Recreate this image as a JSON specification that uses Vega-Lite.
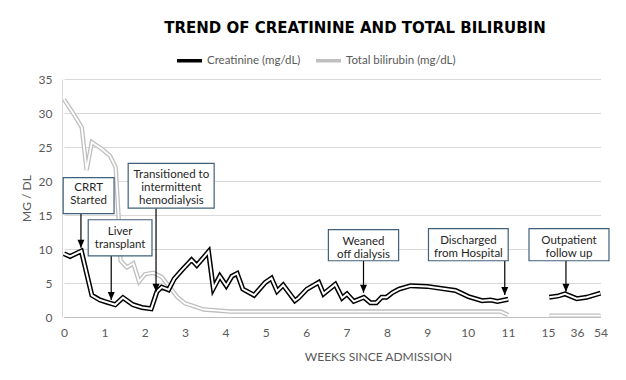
{
  "$schema": "https://vega.github.io/schema/vega-lite/v6.json",
  "width": 540,
  "height": 238,
  "autosize": {"type": "none"},
  "padding": {"left": 62, "top": 79, "right": 24, "bottom": 63},
  "background": "white",
  "title": {"text": "TREND OF CREATININE AND TOTAL BILIRUBIN", "font": "DejaVu Sans", "fontSize": 15, "fontWeight": "bold", "color": "#000000", "anchor": "middle", "dx": 23, "offset": 10, "frame": "group"},
  "config": {
    "view": {"stroke": null},
    "axis": {"labelFont": "Lato", "labelFontSize": 12, "labelColor": "#595959", "titleFont": "Lato", "titleFontSize": 12, "titleFontWeight": "normal", "titleColor": "#595959", "ticks": false, "labelOverlap": false, "labelFlush": false},
    "legend": {"labelFont": "Lato", "labelFontSize": 11.5, "labelColor": "#595959"}
  },
  "datasets": {
    "series": [
      {"series": "Total bilirubin (mg/dL)", "phase": "in", "week": 0.0, "value": 32.0},
      {"series": "Total bilirubin (mg/dL)", "phase": "in", "week": 0.19, "value": 30.3},
      {"series": "Total bilirubin (mg/dL)", "phase": "in", "week": 0.44, "value": 27.9},
      {"series": "Total bilirubin (mg/dL)", "phase": "in", "week": 0.56, "value": 21.6},
      {"series": "Total bilirubin (mg/dL)", "phase": "in", "week": 0.69, "value": 25.7},
      {"series": "Total bilirubin (mg/dL)", "phase": "in", "week": 0.94, "value": 24.7},
      {"series": "Total bilirubin (mg/dL)", "phase": "in", "week": 1.14, "value": 23.7},
      {"series": "Total bilirubin (mg/dL)", "phase": "in", "week": 1.28, "value": 22.0},
      {"series": "Total bilirubin (mg/dL)", "phase": "in", "week": 1.35, "value": 15.0},
      {"series": "Total bilirubin (mg/dL)", "phase": "in", "week": 1.40, "value": 8.3},
      {"series": "Total bilirubin (mg/dL)", "phase": "in", "week": 1.56, "value": 7.3},
      {"series": "Total bilirubin (mg/dL)", "phase": "in", "week": 1.72, "value": 7.9},
      {"series": "Total bilirubin (mg/dL)", "phase": "in", "week": 1.86, "value": 5.2},
      {"series": "Total bilirubin (mg/dL)", "phase": "in", "week": 2.01, "value": 6.3},
      {"series": "Total bilirubin (mg/dL)", "phase": "in", "week": 2.21, "value": 6.5},
      {"series": "Total bilirubin (mg/dL)", "phase": "in", "week": 2.42, "value": 5.9},
      {"series": "Total bilirubin (mg/dL)", "phase": "in", "week": 2.63, "value": 4.3},
      {"series": "Total bilirubin (mg/dL)", "phase": "in", "week": 2.80, "value": 3.0},
      {"series": "Total bilirubin (mg/dL)", "phase": "in", "week": 3.00, "value": 2.0},
      {"series": "Total bilirubin (mg/dL)", "phase": "in", "week": 3.21, "value": 1.6},
      {"series": "Total bilirubin (mg/dL)", "phase": "in", "week": 3.46, "value": 1.1},
      {"series": "Total bilirubin (mg/dL)", "phase": "in", "week": 3.70, "value": 1.0},
      {"series": "Total bilirubin (mg/dL)", "phase": "in", "week": 4.12, "value": 0.8},
      {"series": "Total bilirubin (mg/dL)", "phase": "in", "week": 10.82, "value": 0.8},
      {"series": "Total bilirubin (mg/dL)", "phase": "in", "week": 11.02, "value": 0.3},
      {"series": "Total bilirubin (mg/dL)", "phase": "out", "week": 15.9, "value": 0.2},
      {"series": "Total bilirubin (mg/dL)", "phase": "out", "week": 54, "value": 0.2},
      {"series": "Creatinine (mg/dL)", "phase": "in", "week": 0.0, "value": 9.3},
      {"series": "Creatinine (mg/dL)", "phase": "in", "week": 0.15, "value": 8.9},
      {"series": "Creatinine (mg/dL)", "phase": "in", "week": 0.43, "value": 9.7},
      {"series": "Creatinine (mg/dL)", "phase": "in", "week": 0.69, "value": 3.2},
      {"series": "Creatinine (mg/dL)", "phase": "in", "week": 0.89, "value": 2.5},
      {"series": "Creatinine (mg/dL)", "phase": "in", "week": 1.05, "value": 2.2},
      {"series": "Creatinine (mg/dL)", "phase": "in", "week": 1.27, "value": 1.8},
      {"series": "Creatinine (mg/dL)", "phase": "in", "week": 1.46, "value": 2.85},
      {"series": "Creatinine (mg/dL)", "phase": "in", "week": 1.71, "value": 1.8},
      {"series": "Creatinine (mg/dL)", "phase": "in", "week": 1.93, "value": 1.4},
      {"series": "Creatinine (mg/dL)", "phase": "in", "week": 2.16, "value": 1.2},
      {"series": "Creatinine (mg/dL)", "phase": "in", "week": 2.30, "value": 3.7},
      {"series": "Creatinine (mg/dL)", "phase": "in", "week": 2.42, "value": 4.4},
      {"series": "Creatinine (mg/dL)", "phase": "in", "week": 2.59, "value": 4.0},
      {"series": "Creatinine (mg/dL)", "phase": "in", "week": 2.73, "value": 5.6},
      {"series": "Creatinine (mg/dL)", "phase": "in", "week": 2.92, "value": 6.9},
      {"series": "Creatinine (mg/dL)", "phase": "in", "week": 3.16, "value": 8.4},
      {"series": "Creatinine (mg/dL)", "phase": "in", "week": 3.29, "value": 7.6},
      {"series": "Creatinine (mg/dL)", "phase": "in", "week": 3.58, "value": 9.6},
      {"series": "Creatinine (mg/dL)", "phase": "in", "week": 3.70, "value": 4.2},
      {"series": "Creatinine (mg/dL)", "phase": "in", "week": 3.86, "value": 6.0},
      {"series": "Creatinine (mg/dL)", "phase": "in", "week": 4.02, "value": 4.6},
      {"series": "Creatinine (mg/dL)", "phase": "in", "week": 4.16, "value": 6.0},
      {"series": "Creatinine (mg/dL)", "phase": "in", "week": 4.29, "value": 6.4},
      {"series": "Creatinine (mg/dL)", "phase": "in", "week": 4.43, "value": 4.1},
      {"series": "Creatinine (mg/dL)", "phase": "in", "week": 4.71, "value": 3.2},
      {"series": "Creatinine (mg/dL)", "phase": "in", "week": 4.99, "value": 5.1},
      {"series": "Creatinine (mg/dL)", "phase": "in", "week": 5.14, "value": 5.7},
      {"series": "Creatinine (mg/dL)", "phase": "in", "week": 5.28, "value": 3.8},
      {"series": "Creatinine (mg/dL)", "phase": "in", "week": 5.43, "value": 4.7},
      {"series": "Creatinine (mg/dL)", "phase": "in", "week": 5.72, "value": 2.4},
      {"series": "Creatinine (mg/dL)", "phase": "in", "week": 5.81, "value": 2.8},
      {"series": "Creatinine (mg/dL)", "phase": "in", "week": 6.02, "value": 4.1},
      {"series": "Creatinine (mg/dL)", "phase": "in", "week": 6.31, "value": 5.1},
      {"series": "Creatinine (mg/dL)", "phase": "in", "week": 6.43, "value": 3.4},
      {"series": "Creatinine (mg/dL)", "phase": "in", "week": 6.72, "value": 4.8},
      {"series": "Creatinine (mg/dL)", "phase": "in", "week": 6.89, "value": 2.8},
      {"series": "Creatinine (mg/dL)", "phase": "in", "week": 7.01, "value": 3.4},
      {"series": "Creatinine (mg/dL)", "phase": "in", "week": 7.18, "value": 2.3},
      {"series": "Creatinine (mg/dL)", "phase": "in", "week": 7.43, "value": 2.9},
      {"series": "Creatinine (mg/dL)", "phase": "in", "week": 7.59, "value": 2.1},
      {"series": "Creatinine (mg/dL)", "phase": "in", "week": 7.74, "value": 2.1},
      {"series": "Creatinine (mg/dL)", "phase": "in", "week": 7.87, "value": 2.9},
      {"series": "Creatinine (mg/dL)", "phase": "in", "week": 7.99, "value": 2.9},
      {"series": "Creatinine (mg/dL)", "phase": "in", "week": 8.14, "value": 3.6},
      {"series": "Creatinine (mg/dL)", "phase": "in", "week": 8.30, "value": 4.1},
      {"series": "Creatinine (mg/dL)", "phase": "in", "week": 8.59, "value": 4.6},
      {"series": "Creatinine (mg/dL)", "phase": "in", "week": 9.00, "value": 4.5},
      {"series": "Creatinine (mg/dL)", "phase": "in", "week": 9.70, "value": 3.9},
      {"series": "Creatinine (mg/dL)", "phase": "in", "week": 10.02, "value": 3.0},
      {"series": "Creatinine (mg/dL)", "phase": "in", "week": 10.36, "value": 2.4},
      {"series": "Creatinine (mg/dL)", "phase": "in", "week": 10.57, "value": 2.5},
      {"series": "Creatinine (mg/dL)", "phase": "in", "week": 10.74, "value": 2.3},
      {"series": "Creatinine (mg/dL)", "phase": "in", "week": 11.02, "value": 2.6},
      {"series": "Creatinine (mg/dL)", "phase": "out", "week": 15.9, "value": 2.9},
      {"series": "Creatinine (mg/dL)", "phase": "out", "week": 22.5, "value": 3.1},
      {"series": "Creatinine (mg/dL)", "phase": "out", "week": 27.3, "value": 3.4},
      {"series": "Creatinine (mg/dL)", "phase": "out", "week": 35.8, "value": 2.7},
      {"series": "Creatinine (mg/dL)", "phase": "out", "week": 43.4, "value": 2.9},
      {"series": "Creatinine (mg/dL)", "phase": "out", "week": 54, "value": 3.5}
    ],
    "notes": [
      {"label": "CRRT\nStarted", "bx1": -0.02, "bx2": 1.24, "by1": 15.2, "by2": 20.5, "tx": 0.61, "ty": 18.9, "ax": 0.42, "atip": 10.2},
      {"label": "Liver\ntransplant", "bx1": 0.60, "bx2": 2.18, "by1": 9.0, "by2": 14.3, "tx": 1.39, "ty": 12.56, "ax": 1.17, "atip": 2.5},
      {"label": "Transitioned to\nintermittent\nhemodialysis", "bx1": 1.59, "bx2": 3.72, "by1": 16.0, "by2": 22.6, "tx": 2.66, "ty": 20.83, "ax": 2.28, "atip": 3.7},
      {"label": "Weaned\noff dialysis", "bx1": 6.55, "bx2": 8.29, "by1": 8.27, "by2": 12.85, "tx": 7.42, "ty": 11.08, "ax": 7.42, "atip": 3.55},
      {"label": "Discharged\nfrom Hospital", "bx1": 9.03, "bx2": 11.02, "by1": 8.27, "by2": 13.0, "tx": 10.02, "ty": 11.23, "ax": 10.92, "atip": 3.25},
      {"label": "Outpatient\nfollow up", "bx1": 13.1, "bx2": 60.5, "by1": 8.27, "by2": 13.0, "tx": 30.2, "ty": 11.23, "ax": 28.0, "atip": 3.7}
    ]
  },
  "layer": [
    {
      "data": {"name": "series"},
      "transform": [{"filter": "datum.series === 'Total bilirubin (mg/dL)'"}],
      "mark": {"type": "line", "strokeWidth": 4.4, "strokeJoin": "miter"},
      "encoding": {
        "x": {"field": "week", "type": "quantitative",
              "scale": {"domain": [0, 11, 15, 36, 54], "range": [2, 446, 486, 515, 538.5], "nice": false, "zero": false},
              "axis": {"values": [0, 1, 2, 3, 4, 5, 6, 7, 8, 9, 10, 11, 15, 36, 54], "tickCount": 30, "labelOverlap": false, "labelFlush": false, "format": "d", "grid": false, "domainColor": "#bfbfbf", "labelPadding": 10, "title": "WEEKS SINCE ADMISSION", "titleX": 316, "titlePadding": 13}},
        "y": {"field": "value", "type": "quantitative",
              "scale": {"domain": [0, 35], "nice": false},
              "axis": {"values": [0, 5, 10, 15, 20, 25, 30, 35], "tickCount": 20, "labelOverlap": false, "labelFlush": false, "gridColor": "#d9d9d9", "domainColor": "#d9d9d9", "labelPadding": 10, "title": "MG / DL", "titlePadding": 5}},
        "color": {"field": "series", "type": "nominal",
                  "scale": {"domain": ["Creatinine (mg/dL)", "Total bilirubin (mg/dL)"], "range": ["#000000", "#bfbfbf"]},
                  "legend": {"title": null, "orient": "none", "legendX": 113, "legendY": -33, "direction": "horizontal", "symbolType": "stroke", "symbolStrokeWidth": 3.5, "symbolSize": 625, "labelOffset": 3, "columnPadding": 8}},
        "detail": {"field": "phase"}
      }
    },
    {
      "data": {"name": "series"},
      "transform": [{"filter": "datum.series === 'Total bilirubin (mg/dL)'"}],
      "mark": {"type": "line", "strokeWidth": 1.8, "color": "#ffffff", "strokeJoin": "miter"},
      "encoding": {
        "x": {"field": "week", "type": "quantitative"},
        "y": {"field": "value", "type": "quantitative"},
        "detail": {"field": "phase"}
      }
    },
    {
      "data": {"name": "series"},
      "transform": [{"filter": "datum.series === 'Creatinine (mg/dL)'"}],
      "mark": {"type": "line", "strokeWidth": 5, "strokeJoin": "miter"},
      "encoding": {
        "x": {"field": "week", "type": "quantitative"},
        "y": {"field": "value", "type": "quantitative"},
        "color": {"field": "series", "type": "nominal"},
        "detail": {"field": "phase"}
      }
    },
    {
      "data": {"name": "series"},
      "transform": [{"filter": "datum.series === 'Creatinine (mg/dL)'"}],
      "mark": {"type": "line", "strokeWidth": 2, "color": "#ffffff", "strokeJoin": "miter"},
      "encoding": {
        "x": {"field": "week", "type": "quantitative"},
        "y": {"field": "value", "type": "quantitative"},
        "detail": {"field": "phase"}
      }
    },
    {
      "data": {"name": "notes"},
      "mark": {"type": "rule", "color": "#000000", "strokeWidth": 1.2},
      "encoding": {
        "x": {"field": "ax", "type": "quantitative"},
        "y": {"field": "by1", "type": "quantitative"},
        "y2": {"field": "atip"}
      }
    },
    {
      "data": {"name": "notes"},
      "mark": {"type": "point", "shape": "M-0.7,-1.6L0.7,-1.6L0,0Z", "filled": true, "color": "#000000", "size": 100, "opacity": 1},
      "encoding": {
        "x": {"field": "ax", "type": "quantitative"},
        "y": {"field": "atip", "type": "quantitative"}
      }
    },
    {
      "data": {"name": "notes"},
      "mark": {"type": "rect", "fill": "#ffffff", "stroke": "#41607c", "strokeWidth": 1.2},
      "encoding": {
        "x": {"field": "bx1", "type": "quantitative"},
        "x2": {"field": "bx2"},
        "y": {"field": "by1", "type": "quantitative"},
        "y2": {"field": "by2"}
      }
    },
    {
      "data": {"name": "notes"},
      "mark": {"type": "text", "font": "Lato", "fontSize": 11.5, "color": "#262626", "lineBreak": "\n", "lineHeight": 13, "align": "center", "baseline": "middle"},
      "encoding": {
        "x": {"field": "tx", "type": "quantitative"},
        "y": {"field": "ty", "type": "quantitative"},
        "text": {"field": "label"}
      }
    }
  ]
}
